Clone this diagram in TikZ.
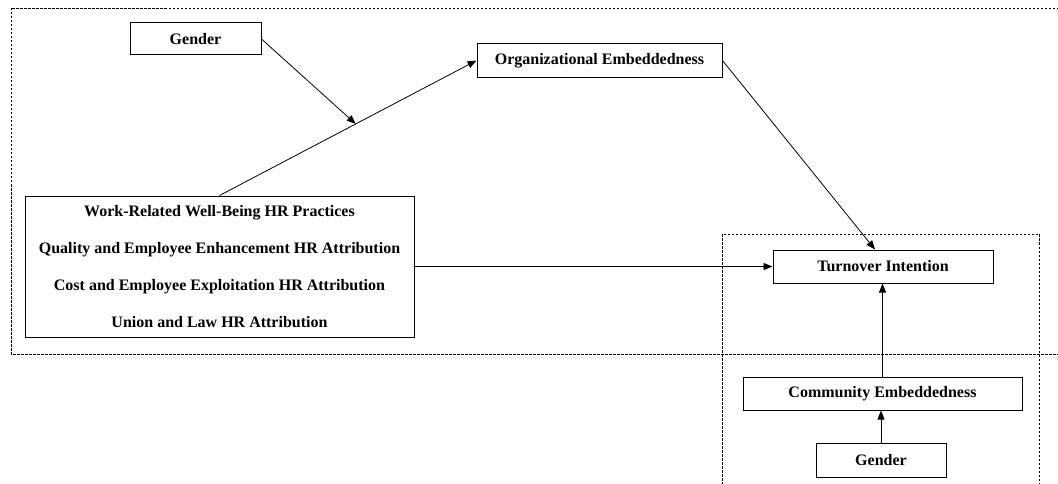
\documentclass[tikz,border=0pt]{standalone}
\usepackage{fontspec}
\setmainfont{Liberation Serif}
\usetikzlibrary{arrows.meta,calc}
\tikzset{
  box/.style={draw, line width=1pt, inner sep=0pt, font=\fontsize{16}{19}\selectfont\bfseries, align=center},
  conn/.style={line width=0.8pt, -{Triangle[length=9pt,width=7pt]}},
  grp/.style={line width=0.7pt, dash pattern=on 2.5pt off 1.5pt}
}
\begin{document}
\begin{tikzpicture}[x=1pt,y=-1pt]
\useasboundingbox (0,0) rectangle (1058,484);
\fill[white] (0,0) rectangle (1058,484);
\begin{scope}
\clip (0,0) rectangle (1058,484);
\draw[grp] (11,8) rectangle (1065,354);
\draw[grp] (722,234) rectangle (1039,495);
\end{scope}
\node[box, minimum width=131pt, minimum height=32pt] (g1) at (195.5,39) {Gender};
\node[box, minimum width=245pt, minimum height=34pt] (org) at (599.5,60.5) {Organizational Embeddedness};
\node[box, minimum width=389pt, minimum height=141pt, font=\fontsize{16}{37}\selectfont\bfseries] (work) at (219.5,266.5)
  {Work-Related Well-Being HR Practices\\Quality and Employee Enhancement HR Attribution\\Cost and Employee Exploitation HR Attribution\\Union and Law HR Attribution};
\node[box, minimum width=220pt, minimum height=33pt] (turn) at (883,266.5) {Turnover Intention};
\node[box, minimum width=279pt, minimum height=33pt] (comm) at (882.5,393.5) {Community Embeddedness};
\node[box, minimum width=130pt, minimum height=34pt] (g2) at (881,460) {Gender};
\draw[conn] (work.north) -- coordinate[pos=0.53] (mod) (org.west);
\draw[conn] (g1.east) -- (mod);
\draw[conn] (org.east) -- ([xshift=-8pt]turn.north);
\draw[conn] (work.east) -- (turn.west);
\draw[conn] (comm.north) -- (comm.north |- turn.south);
\draw[conn] (g2.north) -- (g2.north |- comm.south);
\end{tikzpicture}
\end{document}
